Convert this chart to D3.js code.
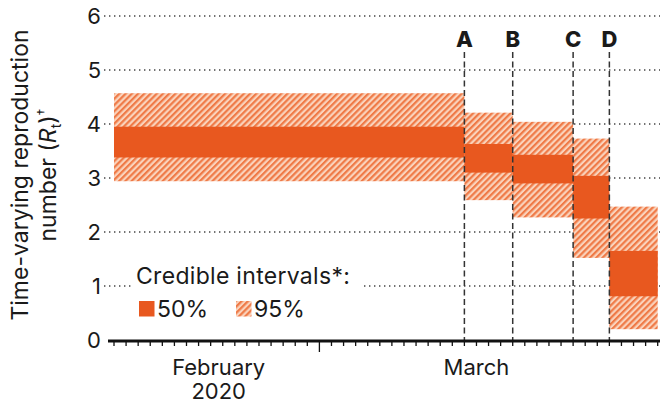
<!DOCTYPE html>
<html>
<head>
<meta charset="utf-8">
<script src="https://cdn.jsdelivr.net/npm/d3@7"></script>
<style>
  html, body { margin: 0; padding: 0; background: #fff; }
  svg { display: block; }
  text { font-family: Inter, "Open Sans", sans-serif; fill: #1a1a1a; }
</style>
</head>
<body>
<svg id="chart" width="660" height="405"></svg>
<script>
// ---- data ----
const periodStart = ["2020-02-01", "2020-03-01", "2020-03-05", "2020-03-10", "2020-03-13"];
const periodEnd   = ["2020-03-01", "2020-03-05", "2020-03-10", "2020-03-13", "2020-03-17"];
const lo95 = [2.94, 2.59, 2.27, 1.52, 0.20];
const hi95 = [4.57, 4.21, 4.04, 3.73, 2.47];
const lo50 = [3.38, 3.10, 2.90, 2.25, 0.81];
const hi50 = [3.95, 3.63, 3.43, 3.04, 1.65];
const interventionLabels = ["A", "B", "C", "D"];
const interventionDates = ["2020-03-01", "2020-03-05", "2020-03-10", "2020-03-13"];
const yTicks = [0, 1, 2, 3, 4, 5, 6];
const monthLabels = [["February", "2020"], ["March"]];
const monthLabelDates = ["2020-02-09T16:00", "2020-03-02"];
const majorTickDates = ["2020-02-18"];
const axisStart = "2020-02-01", axisEnd = "2020-03-17";
const legendTitle = "Credible intervals*:";
const legendItems = ["50%", "95%"];

// ---- setup ----
const svg = d3.select("#chart");
const parse = d3.isoParse;
const x = d3.scaleUtc().domain([parse(axisStart), parse(axisEnd)]).range([114, 657.7]);
const y = d3.scaleLinear().domain([0, 6]).range([340, 16]);

const SOLID = "#e8581f";
const defs = svg.append("defs");
const pat = defs.append("pattern")
  .attr("id", "hatch").attr("patternUnits", "userSpaceOnUse")
  .attr("width", 4.4).attr("height", 4.4)
  .attr("patternTransform", "rotate(45)");
pat.append("rect").attr("width", 4.4).attr("height", 4.4).attr("fill", "#fad3bc");
pat.append("rect").attr("width", 2.2).attr("height", 4.4).attr("fill", "#ef7a47");

// ---- gridlines (dotted) ----
svg.append("g").selectAll("line").data(yTicks.filter(d => d > 0)).join("line")
  .attr("x1", 104).attr("x2", 660)
  .attr("y1", d => y(d)).attr("y2", d => y(d))
  .attr("stroke", "#444").attr("stroke-width", 1.5)
  .attr("stroke-dasharray", "1.4,3.6");

// ---- bars ----
const idx = d3.range(periodStart.length);
svg.append("g").selectAll("rect").data(idx).join("rect")
  .attr("x", i => x(parse(periodStart[i])))
  .attr("width", i => x(parse(periodEnd[i])) - x(parse(periodStart[i])))
  .attr("y", i => y(hi95[i]))
  .attr("height", i => y(lo95[i]) - y(hi95[i]))
  .attr("fill", "url(#hatch)");
svg.append("g").selectAll("rect").data(idx).join("rect")
  .attr("x", i => x(parse(periodStart[i])))
  .attr("width", i => x(parse(periodEnd[i])) - x(parse(periodStart[i])))
  .attr("y", i => y(hi50[i]))
  .attr("height", i => y(lo50[i]) - y(hi50[i]))
  .attr("fill", SOLID);

// ---- intervention lines ----
const iv = svg.append("g");
iv.selectAll("line").data(interventionDates).join("line")
  .attr("x1", d => x(parse(d))).attr("x2", d => x(parse(d)))
  .attr("y1", 52).attr("y2", y(0))
  .attr("stroke", "#333").attr("stroke-width", 1.5)
  .attr("stroke-dasharray", "6,3.5");
iv.selectAll("text").data(interventionDates).join("text")
  .attr("x", d => x(parse(d))).attr("y", 47)
  .attr("text-anchor", "middle")
  .style("font-size", "22px").style("font-weight", "800")
  .text((d, i) => interventionLabels[i]);

// ---- legend ----
const lg = svg.append("g");
lg.append("rect").attr("x", 131).attr("y", 262).attr("width", 231).attr("height", 58).attr("fill", "#fff");
lg.append("text").attr("x", 136).attr("y", 284).style("font-size", "23px").style("letter-spacing", "0.3px").text(legendTitle);
lg.append("rect").attr("x", 139).attr("y", 301).attr("width", 15.5).attr("height", 15.5).attr("fill", SOLID);
lg.append("text").attr("x", 157).attr("y", 316.5).style("font-size", "23px").text(legendItems[0]);
lg.append("rect").attr("x", 236).attr("y", 301).attr("width", 15.5).attr("height", 15.5).attr("fill", "url(#hatch)");
lg.append("text").attr("x", 254).attr("y", 316.5).style("font-size", "23px").text(legendItems[1]);

// ---- x axis ----
const xa = svg.append("g");
xa.append("line").attr("x1", 108).attr("x2", 660).attr("y1", 341).attr("y2", 341)
  .attr("stroke", "#111").attr("stroke-width", 3.2);
const days = d3.utcDay.range(parse(axisStart), d3.utcDay.offset(parse(axisEnd), 1));
const majors = majorTickDates.map(d => +parse(d));
xa.selectAll("line.tick").data(days).join("line").attr("class", "tick")
  .attr("x1", d => x(d)).attr("x2", d => x(d))
  .attr("y1", 341).attr("y2", d => majors.includes(+d) ? 352 : 346)
  .attr("stroke", "#111").attr("stroke-width", 1.3);
monthLabels.forEach((lines, i) => {
  lines.forEach((l, j) => {
    xa.append("text")
      .attr("x", x(parse(monthLabelDates[i])))
      .attr("y", 375 + j * 24)
      .attr("text-anchor", "middle")
      .style("font-size", "22px")
      .text(l);
  });
});

// ---- y axis labels ----
svg.append("g").selectAll("text").data(yTicks).join("text")
  .attr("x", 101).attr("y", d => y(d) + 8)
  .attr("text-anchor", "end")
  .style("font-size", "22px")
  .text(d => d);

// ---- y title ----
const yt = svg.append("g").attr("transform", "translate(28,175) rotate(-90)");
yt.append("text").attr("text-anchor", "middle").style("font-size", "23px")
  .text("Time-varying reproduction");
const t2 = yt.append("text").attr("text-anchor", "middle").attr("y", 28).style("font-size", "23px");
t2.append("tspan").text("number (");
t2.append("tspan").style("font-style", "italic").text("R");
t2.append("tspan").attr("dy", 5).style("font-size", "14px").text("t");
t2.append("tspan").attr("dy", -5).text(")");
t2.append("tspan").attr("dy", -8).style("font-size", "14px").text("†");
</script>
</body>
</html>
